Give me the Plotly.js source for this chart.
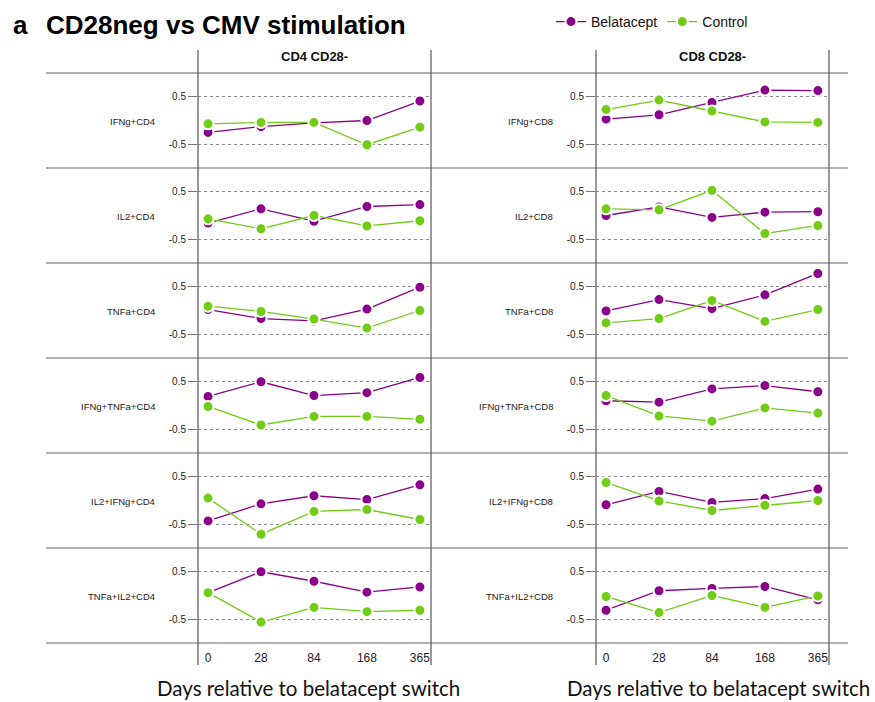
<!DOCTYPE html>
<html>
<head>
<meta charset="utf-8">
<script src="https://cdn.plot.ly/plotly-3.0.1.min.js"></script>
<style>html,body{margin:0;padding:0;background:#fff;}#chart{width:875px;height:702px;}</style>
</head>
<body>
<div id="chart"></div>
<script>
// ---- data ----
const days = ['0', '28', '84', '168', '365'];
const rowLabelsCD4 = ['IFNg+CD4', 'IL2+CD4', 'TNFa+CD4', 'IFNg+TNFa+CD4', 'IL2+IFNg+CD4', 'TNFa+IL2+CD4'];
const rowLabelsCD8 = ['IFNg+CD8', 'IL2+CD8', 'TNFa+CD8', 'IFNg+TNFa+CD8', 'IL2+IFNg+CD8', 'TNFa+IL2+CD8'];
const columnTitles = ['CD4 CD28-', 'CD8 CD28-'];
const seriesNames = ['Belatacept', 'Control'];

const belataceptCD4 = [
  [-0.25, -0.13, -0.05, 0.00, 0.41],
  [-0.16, 0.14, -0.12, 0.19, 0.23],
  [0.02, -0.17, -0.22, 0.03, 0.49],
  [0.19, 0.50, 0.21, 0.27, 0.59],
  [-0.43, -0.07, 0.10, 0.02, 0.33],
  [0.06, 0.50, 0.30, 0.07, 0.18]
];
const controlCD4 = [
  [-0.07, -0.04, -0.04, -0.51, -0.14],
  [-0.07, -0.28, 0.00, -0.22, -0.11],
  [0.09, -0.02, -0.18, -0.37, 0.00],
  [-0.02, -0.41, -0.23, -0.23, -0.29],
  [0.05, -0.71, -0.23, -0.19, -0.40],
  [0.06, -0.56, -0.25, -0.34, -0.31]
];
const belataceptCD8 = [
  [0.03, 0.12, 0.38, 0.64, 0.63],
  [0.00, 0.18, -0.04, 0.07, 0.08],
  [-0.01, 0.23, 0.04, 0.33, 0.78],
  [0.10, 0.07, 0.35, 0.42, 0.29],
  [-0.09, 0.19, -0.04, 0.04, 0.24],
  [-0.31, 0.10, 0.15, 0.19, -0.09]
];
const controlCD8 = [
  [0.23, 0.43, 0.20, -0.03, -0.04],
  [0.14, 0.12, 0.53, -0.38, -0.21],
  [-0.26, -0.17, 0.21, -0.23, 0.02],
  [0.21, -0.22, -0.33, -0.05, -0.16],
  [0.38, -0.01, -0.21, -0.10, 0.00],
  [-0.02, -0.36, 0.00, -0.25, -0.01]
];
const yTickVals = [-0.5, 0.5];
const yTickText = ['-0.5', '0.5'];
const xAxisTitle = 'Days relative to belatacept switch';
const mainTitle = 'CD28neg vs CMV stimulation';
const panelLetter = 'a';

// ---- layout helpers ----
const W = 875, H = 702;
const PURPLE = '#8B008B', GREEN = '#70CC14';
const FONT = 'Liberation Sans, Arial, sans-serif';
const px = v => v / W;
const py = v => 1 - v / H;
const colX = [[198, 431], [596, 829]];
const rowTop0 = 73, rowH = 95, nRows = 6;
const labelRight = [157, 555];

const traces = [];
const layout = {
  width: W, height: H, autosize: false,
  margin: {l: 0, r: 0, t: 0, b: 0, pad: 0},
  paper_bgcolor: '#fff', plot_bgcolor: 'rgba(0,0,0,0)',
  font: {family: FONT, color: '#222'},
  showlegend: true,
  legend: {orientation: 'h', x: px(551), y: py(6), xanchor: 'left', yanchor: 'top',
           font: {family: FONT, size: 14, color: '#111'}, bgcolor: 'rgba(0,0,0,0)', itemwidth: 30},
  title: {text: '<b>' + mainTitle + '</b>', x: px(46), xanchor: 'left', xref: 'paper',
          y: py(25), yref: 'container', yanchor: 'middle',
          font: {family: FONT, size: 26, color: '#000'}},
  shapes: [], annotations: []
};

const groups = [
  {bela: belataceptCD4, ctrl: controlCD4, labels: rowLabelsCD4},
  {bela: belataceptCD8, ctrl: controlCD8, labels: rowLabelsCD8}
];

let n = 0;
for (let c = 0; c < 2; c++) {
  for (let r = 0; r < nRows; r++) {
    n++;
    const xa = 'xaxis' + (n === 1 ? '' : n), ya = 'yaxis' + (n === 1 ? '' : n);
    const xs = 'x' + (n === 1 ? '' : n), ys = 'y' + (n === 1 ? '' : n);
    const top = rowTop0 + rowH * r, bot = top + rowH;
    const isBottom = r === nRows - 1;
    layout[xa] = {
      domain: [px(colX[c][0]), px(colX[c][1])], anchor: ys,
      type: 'category', categoryorder: 'array', categoryarray: days,
      range: [-0.19, 4.21], showgrid: false, zeroline: false, showline: false,
      showticklabels: isBottom, ticks: isBottom ? 'outside' : '', ticklen: 4,
      tickcolor: 'rgba(0,0,0,0)', tickfont: {family: FONT, size: 12, color: '#222'},
      fixedrange: true
    };
    layout[ya] = {
      domain: [py(bot), py(top)], anchor: xs, range: [-1, 1],
      tickvals: yTickVals, ticktext: yTickText,
      showgrid: true, gridcolor: '#8a8a8a', griddash: 'dot', gridwidth: 1,
      zeroline: false, showline: false,
      ticks: 'outside', ticklen: 9, tickcolor: '#777', tickwidth: 1,
      tickfont: {family: FONT, size: 10, color: '#222'}, fixedrange: true
    };
    const g = groups[c];
    traces.push({
      x: days, y: g.bela[r], xaxis: xs, yaxis: ys, type: 'scatter', mode: 'lines+markers',
      name: seriesNames[0], legendgroup: 'b', showlegend: n === 1,
      line: {color: PURPLE, width: 1.3},
      marker: {color: PURPLE, size: 11, line: {color: '#fff', width: 2}}
    });
    traces.push({
      x: days, y: g.ctrl[r], xaxis: xs, yaxis: ys, type: 'scatter', mode: 'lines+markers',
      name: seriesNames[1], legendgroup: 'c', showlegend: n === 1,
      line: {color: GREEN, width: 1.3},
      marker: {color: GREEN, size: 11, line: {color: '#fff', width: 2}}
    });
    layout.annotations.push({
      text: g.labels[r], xref: 'paper', yref: 'paper',
      x: px(labelRight[c]), y: py((top + bot) / 2 + 1), xanchor: 'right', yanchor: 'middle',
      showarrow: false, font: {family: FONT, size: 9.5, color: '#222'}
    });
  }
}

// frame lines
for (let r = 0; r <= nRows; r++) {
  const y = rowTop0 + rowH * r;
  layout.shapes.push({type: 'line', xref: 'paper', yref: 'paper', x0: px(46), x1: px(848),
    y0: py(y), y1: py(y), line: {color: '#666', width: 1.2}});
}
[198, 431, 596, 829].forEach(x => {
  layout.shapes.push({type: 'line', xref: 'paper', yref: 'paper', x0: px(x), x1: px(x),
    y0: py(50), y1: py(665), line: {color: '#555', width: 1.2}});
});

// column titles
layout.annotations.push({text: '<b>' + columnTitles[0] + '</b>', xref: 'paper', yref: 'paper',
  x: px(314.5), y: py(56), xanchor: 'center', yanchor: 'middle', showarrow: false,
  font: {family: FONT, size: 13, color: '#111'}});
layout.annotations.push({text: '<b>' + columnTitles[1] + '</b>', xref: 'paper', yref: 'paper',
  x: px(712), y: py(56), xanchor: 'center', yanchor: 'middle', showarrow: false,
  font: {family: FONT, size: 13, color: '#111'}});
// x-axis titles
[308, 718].forEach(x => {
  layout.annotations.push({text: xAxisTitle, xref: 'paper', yref: 'paper',
    x: px(x), y: py(688), xanchor: 'center', yanchor: 'middle', showarrow: false,
    font: {family: 'Lato, Open Sans, sans-serif', size: 20.5, color: '#111'}});
});
// panel letter
layout.annotations.push({text: '<b>' + panelLetter + '</b>', xref: 'paper', yref: 'paper',
  x: px(11), y: py(25), xanchor: 'left', yanchor: 'middle', showarrow: false,
  font: {family: FONT, size: 26, color: '#000'}});

Plotly.newPlot('chart', traces, layout, {displayModeBar: false, staticPlot: true});
</script>
</body>
</html>
